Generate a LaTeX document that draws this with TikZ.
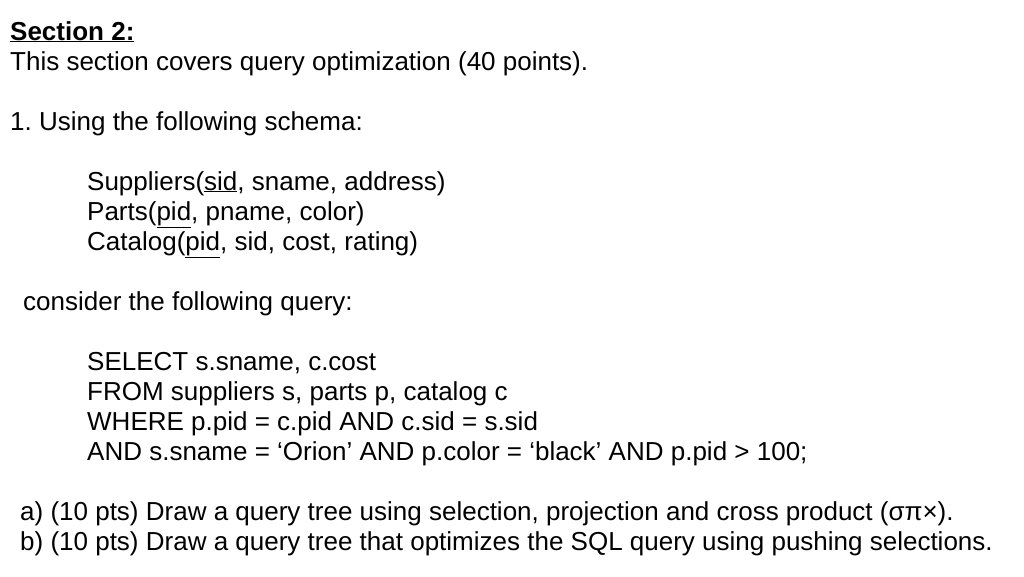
\documentclass[tikz,border=0pt]{standalone}
\usepackage{fontspec}
\setmainfont{Liberation Sans}
\begin{document}
\begin{tikzpicture}[x=1pt,y=-1pt,txt/.style={anchor=base west,inner sep=0pt,font=\fontsize{26}{30}\selectfont}]
\useasboundingbox[fill=white] (0,0) rectangle (1024,576);
\node[txt] (t1) at (10,40) {\textbf{\underline{Section 2:}}};
\node[txt] (t2) at (10,70) {This section covers query optimization (40 points).};
\node[txt] (t3) at (10,130) {1.\ Using the following schema:};
\node[txt] (t4) at (87,190) {Suppliers(\underline{sid}, sname, address)};
\node[txt] (t5) at (87,220) {Parts(\underline{pid}, pname, color)};
\node[txt] (t6) at (87,250) {Catalog(\underline{pid}, sid, cost, rating)};
\node[txt] (t7) at (23,310) {consider the following query:};
\node[txt] (t8) at (87,370) {SELECT s.sname, c.cost};
\node[txt] (t9) at (87,400) {FROM suppliers s, parts p, catalog c};
\node[txt] (t10) at (87,430) {WHERE p.pid = c.pid AND c.sid = s.sid};
\node[txt] (t11) at (87,460) {AND s.sname = ‘Orion’ AND p.color = ‘black’ AND p.pid > 100;};
\node[txt] (t12) at (20,520) {a) (10 pts) Draw a query tree using selection, projection and cross product (σπ×).};
\node[txt] (t13) at (20,550) {b) (10 pts) Draw a query tree that optimizes the SQL query using pushing selections.};
\end{tikzpicture}
\end{document}
